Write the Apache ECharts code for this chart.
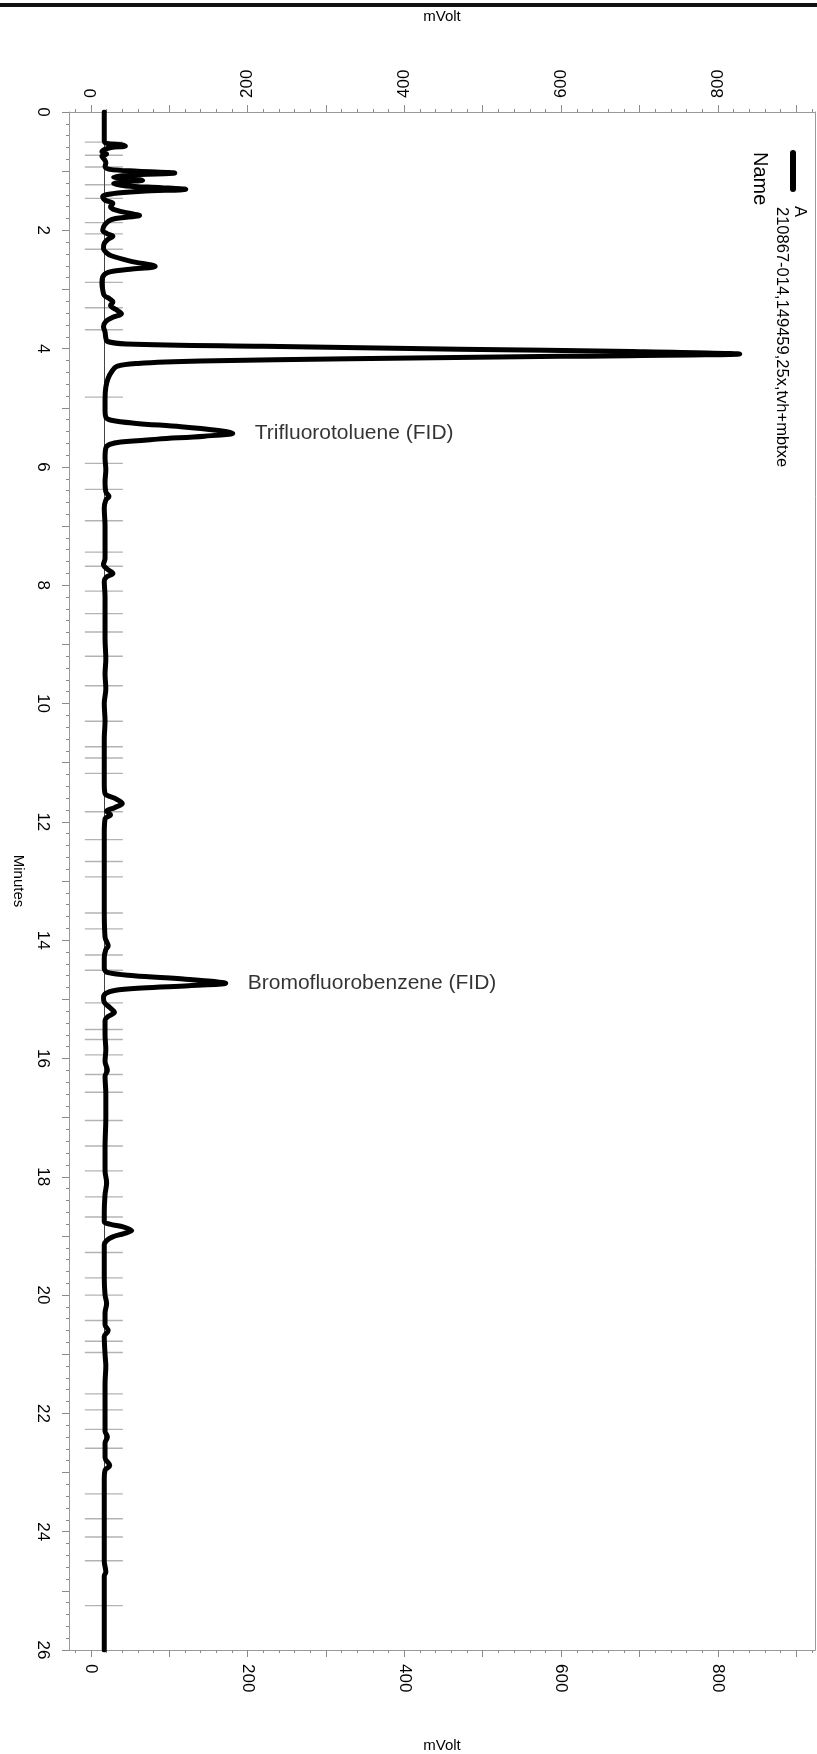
<!DOCTYPE html>
<html>
<head>
<meta charset="utf-8">
<title>Chromatogram</title>
<script src="https://cdn.jsdelivr.net/npm/echarts@6/dist/echarts.min.js"></script>
<style>
  html, body { margin: 0; padding: 0; background: #fff; }
  #chart { width: 817px; height: 1754px; }
</style>
</head>
<body>
<div id="chart"></div>
<script>
// Detector trace: [retention time (min), signal (mV)]
const trace = [
  [0.00,17],[0.30,17],[0.48,17],[0.53,20],[0.555,38],[0.575,44],[0.60,26],[0.63,18],[0.67,14],[0.71,20],
  [0.75,14],[0.80,17],[0.86,19],[0.92,18],[0.97,24],[1.00,60],[1.03,107],[1.065,50],[1.10,29],[1.13,55],
  [1.155,66],[1.18,40],[1.21,29],[1.25,45],[1.28,90],[1.307,121],[1.34,65],[1.38,28],[1.43,15],[1.49,18],
  [1.545,28],[1.60,25],[1.66,32],[1.72,52],[1.75,62],[1.78,45],[1.82,26],[1.90,18],[2.00,15],[2.06,21],
  [2.10,28],[2.15,22],[2.22,17],[2.31,16],[2.38,20],[2.43,26],[2.52,50],[2.61,82],[2.66,50],[2.71,22],
  [2.79,15],[2.90,14],[3.00,15],[3.10,17],[3.16,24],[3.21,28],[3.27,25],[3.34,32],[3.41,39],[3.47,28],
  [3.54,19],[3.63,16],[3.72,18],[3.82,19],[3.88,21],[3.92,45],[3.96,220],[4.01,470],[4.05,690],[4.09,828],
  [4.13,600],[4.17,330],[4.21,140],[4.25,60],[4.30,33],[4.40,26],[4.50,22],[4.65,19],[4.85,18],[5.05,18],
  [5.16,19],[5.21,26],[5.26,55],[5.32,115],[5.38,160],[5.43,181],[5.48,145],[5.53,85],[5.58,38],[5.62,24],
  [5.68,19],[5.85,18],[6.05,19],[6.25,18],[6.42,19],[6.50,23],[6.56,19],[6.70,17],[7.00,18],[7.30,18],
  [7.55,18],[7.65,16],[7.73,21],[7.80,28],[7.86,20],[7.93,17],[8.20,18],[8.50,18],[8.90,18],[9.25,19],
  [9.50,18],[9.75,19],[10.0,17],[10.3,18],[10.6,17],[11.0,17],[11.35,17],[11.52,18],[11.60,30],[11.69,40],
  [11.76,30],[11.82,20],[11.88,25],[11.95,18],[12.2,17],[12.6,17],[13.0,17],[13.5,17],[13.95,18],[14.10,22],
  [14.16,19],[14.30,17],[14.48,17],[14.55,22],[14.60,55],[14.65,110],[14.69,150],[14.73,172],[14.77,125],[14.81,65],
  [14.85,30],[14.90,19],[14.97,16],[15.05,17],[15.14,24],[15.22,30],[15.29,22],[15.36,18],[15.6,18],[15.85,19],
  [16.05,18],[16.2,21],[16.3,18],[16.6,19],[17.0,19],[17.5,18],[17.9,18],[18.1,20],[18.3,18],[18.6,17],
  [18.76,17],[18.80,24],[18.85,42],[18.91,52],[18.96,42],[19.02,27],[19.08,20],[19.15,17],[19.4,17],[19.7,17],
  [20.0,18],[20.14,20],[20.3,18],[20.5,18],[20.6,22],[20.7,17],[21.0,18],[21.2,19],[21.5,18],[21.9,18],
  [22.3,18],[22.4,21],[22.5,18],[22.75,18],[22.88,24],[22.96,18],[23.1,17],[23.5,17],[24.0,17],[24.5,17],
  [24.68,19],[24.75,17],[25.2,17],[25.6,17],[26.0,17]
];

// Integration event marks along the baseline (min)
const eventTimes = [
  0.51,0.73,0.93,1.23,1.46,1.87,2.06,2.32,2.88,3.31,3.68,4.82,5.94,6.38,6.91,7.44,7.68,8.10,8.48,8.79,
  9.20,9.70,10.30,10.73,10.92,11.18,11.83,12.30,12.67,12.93,13.54,13.81,14.25,14.51,15.06,15.51,15.68,15.94,
  16.27,16.57,17.05,17.48,17.90,18.34,18.68,19.28,19.71,20.00,20.43,20.78,20.97,21.67,21.94,22.27,22.59,
  23.36,23.78,24.09,24.49,25.25
];
const baselineMv = 16.5;

// Named peaks
const peakNames = ['Trifluorotoluene (FID)', 'Bromofluorobenzene (FID)'];
const peakTimes = [5.43, 14.73];
const peakMv = [181, 172];

// Axes
const mvRange = [-28, 924];
const mvLabels = [0, 200, 400, 600, 800];
const mvMajorStep = 100;
const mvMinorStep = 20;
const minuteRange = [0, 26];
const minuteLabels = [0, 2, 4, 6, 8, 10, 12, 14, 16, 18, 20, 22, 24, 26];

// Legend
const traceId = 'A';
const sampleName = '210867-014,149459,25x,tvh+mbtxe';
const legendHeader = 'Name';

const FONT = '"Liberation Sans", Arial, Helvetica, sans-serif';
const AXIS_GRAY = '#9a9a9a';
const TICK_GRAY = '#8a8a8a';

const stepValues = (from, to, step) => {
  const out = [];
  for (let v = from; v <= to + 1e-9; v += step) out.push(Math.round(v * 1000) / 1000);
  return out;
};
const mvMinor = stepValues(Math.ceil(mvRange[0] / mvMinorStep) * mvMinorStep, mvRange[1], mvMinorStep);
const mvMajor = stepValues(0, mvRange[1], mvMajorStep);

function mvAxis(position, withLabels) {
  const ax = {
    type: 'value',
    position: position,
    min: mvRange[0],
    max: mvRange[1],
    splitLine: { show: false },
    axisLine: { show: true, onZero: false, lineStyle: { color: AXIS_GRAY, width: 1 } },
    axisTick: {
      show: true,
      customValues: withLabels ? mvMajor : mvMinor,
      length: withLabels ? 7 : 3,
      lineStyle: { color: TICK_GRAY, width: 1 }
    },
    axisLabel: { show: false }
  };
  if (withLabels) {
    ax.axisLabel = {
      show: true,
      customValues: mvLabels,
      rotate: -90,
      margin: 14,
      fontSize: 17,
      fontFamily: FONT,
      color: '#000'
    };
    ax.name = 'mVolt';
    ax.nameLocation = 'middle';
    ax.nameGap = 88;
    ax.nameTextStyle = { fontSize: 15, fontFamily: FONT, color: '#000' };
  }
  return ax;
}

const chart = echarts.init(document.getElementById('chart'), null, { renderer: 'canvas' });

chart.setOption({
  animation: false,
  backgroundColor: '#fff',
  grid: { left: 69, right: 2, top: 112, bottom: 104, containLabel: false, outerBoundsMode: 'none' },
  xAxis: [
    mvAxis('top', false),
    mvAxis('top', true),
    mvAxis('bottom', false),
    mvAxis('bottom', true)
  ],
  yAxis: [
    {
      type: 'value',
      position: 'left',
      inverse: true,
      min: minuteRange[0],
      max: minuteRange[1],
      interval: 1,
      splitLine: { show: false },
      axisLine: { show: true, onZero: false, lineStyle: { color: AXIS_GRAY, width: 1 } },
      axisTick: { show: true, length: 7, lineStyle: { color: TICK_GRAY, width: 1 } },
      minorTick: { show: true, splitNumber: 5, length: 3, lineStyle: { color: TICK_GRAY, width: 1 } },
      axisLabel: {
        customValues: minuteLabels,
        rotate: -90,
        margin: 18,
        fontSize: 17,
        fontFamily: FONT,
        color: '#000'
      },
      name: 'Minutes',
      nameLocation: 'middle',
      nameRotate: -90,
      nameGap: 42,
      nameTextStyle: { fontSize: 15, fontFamily: FONT, color: '#000' }
    },
    {
      type: 'value',
      position: 'right',
      inverse: true,
      min: minuteRange[0],
      max: minuteRange[1],
      splitLine: { show: false },
      axisLine: { show: true, onZero: false, lineStyle: { color: AXIS_GRAY, width: 1 } },
      axisTick: { show: false },
      axisLabel: { show: false }
    }
  ],
  series: [
    {
      name: 'events',
      type: 'scatter',
      xAxisIndex: 0,
      yAxisIndex: 0,
      symbol: 'rect',
      symbolSize: [38, 1.4],
      itemStyle: { color: '#a0a0a0' },
      silent: true,
      z: 1,
      data: eventTimes.map(t => [baselineMv, t])
    },
    {
      name: traceId,
      type: 'line',
      xAxisIndex: 0,
      yAxisIndex: 0,
      smooth: 0.35,
      showSymbol: false,
      symbol: 'none',
      lineStyle: { color: '#000', width: 5, cap: 'round', join: 'round' },
      z: 3,
      data: trace.map(([t, v]) => [v, t]),
      markLine: {
        silent: true,
        symbol: ['none', 'none'],
        label: { show: false },
        lineStyle: { color: '#444', width: 1, type: 'solid' },
        data: [{ xAxis: baselineMv }],
        z: 2
      }
    },
    {
      name: 'peaks',
      type: 'scatter',
      xAxisIndex: 0,
      yAxisIndex: 0,
      symbolSize: 0,
      silent: true,
      z: 4,
      label: {
        show: true,
        position: 'right',
        distance: 22,
        formatter: '{b}',
        fontSize: 21,
        fontFamily: FONT,
        color: '#000'
      },
      data: peakNames.map((n, i) => ({ name: n, value: [peakMv[i], peakTimes[i]] }))
    }
  ],
  graphic: [
    {
      type: 'rect',
      shape: { x: 0, y: 3, width: 817, height: 4 },
      style: { fill: '#111' },
      silent: true
    },
    {
      type: 'line',
      shape: { x1: 793, y1: 153, x2: 793, y2: 189 },
      style: { stroke: '#000', lineWidth: 6, lineCap: 'round' },
      silent: true
    },
    {
      type: 'text',
      x: 800, y: 206,
      rotation: -Math.PI / 2,
      style: { text: traceId, font: '16.5px ' + FONT, fill: '#000', align: 'left', verticalAlign: 'middle' },
      silent: true
    },
    {
      type: 'text',
      x: 782, y: 207,
      rotation: -Math.PI / 2,
      style: { text: sampleName, font: '16.5px ' + FONT, fill: '#000', align: 'left', verticalAlign: 'middle' },
      silent: true
    },
    {
      type: 'text',
      x: 760, y: 152,
      rotation: -Math.PI / 2,
      style: { text: legendHeader, font: '20px ' + FONT, fill: '#000', align: 'left', verticalAlign: 'middle' },
      silent: true
    }
  ]
});
</script>
</body>
</html>
